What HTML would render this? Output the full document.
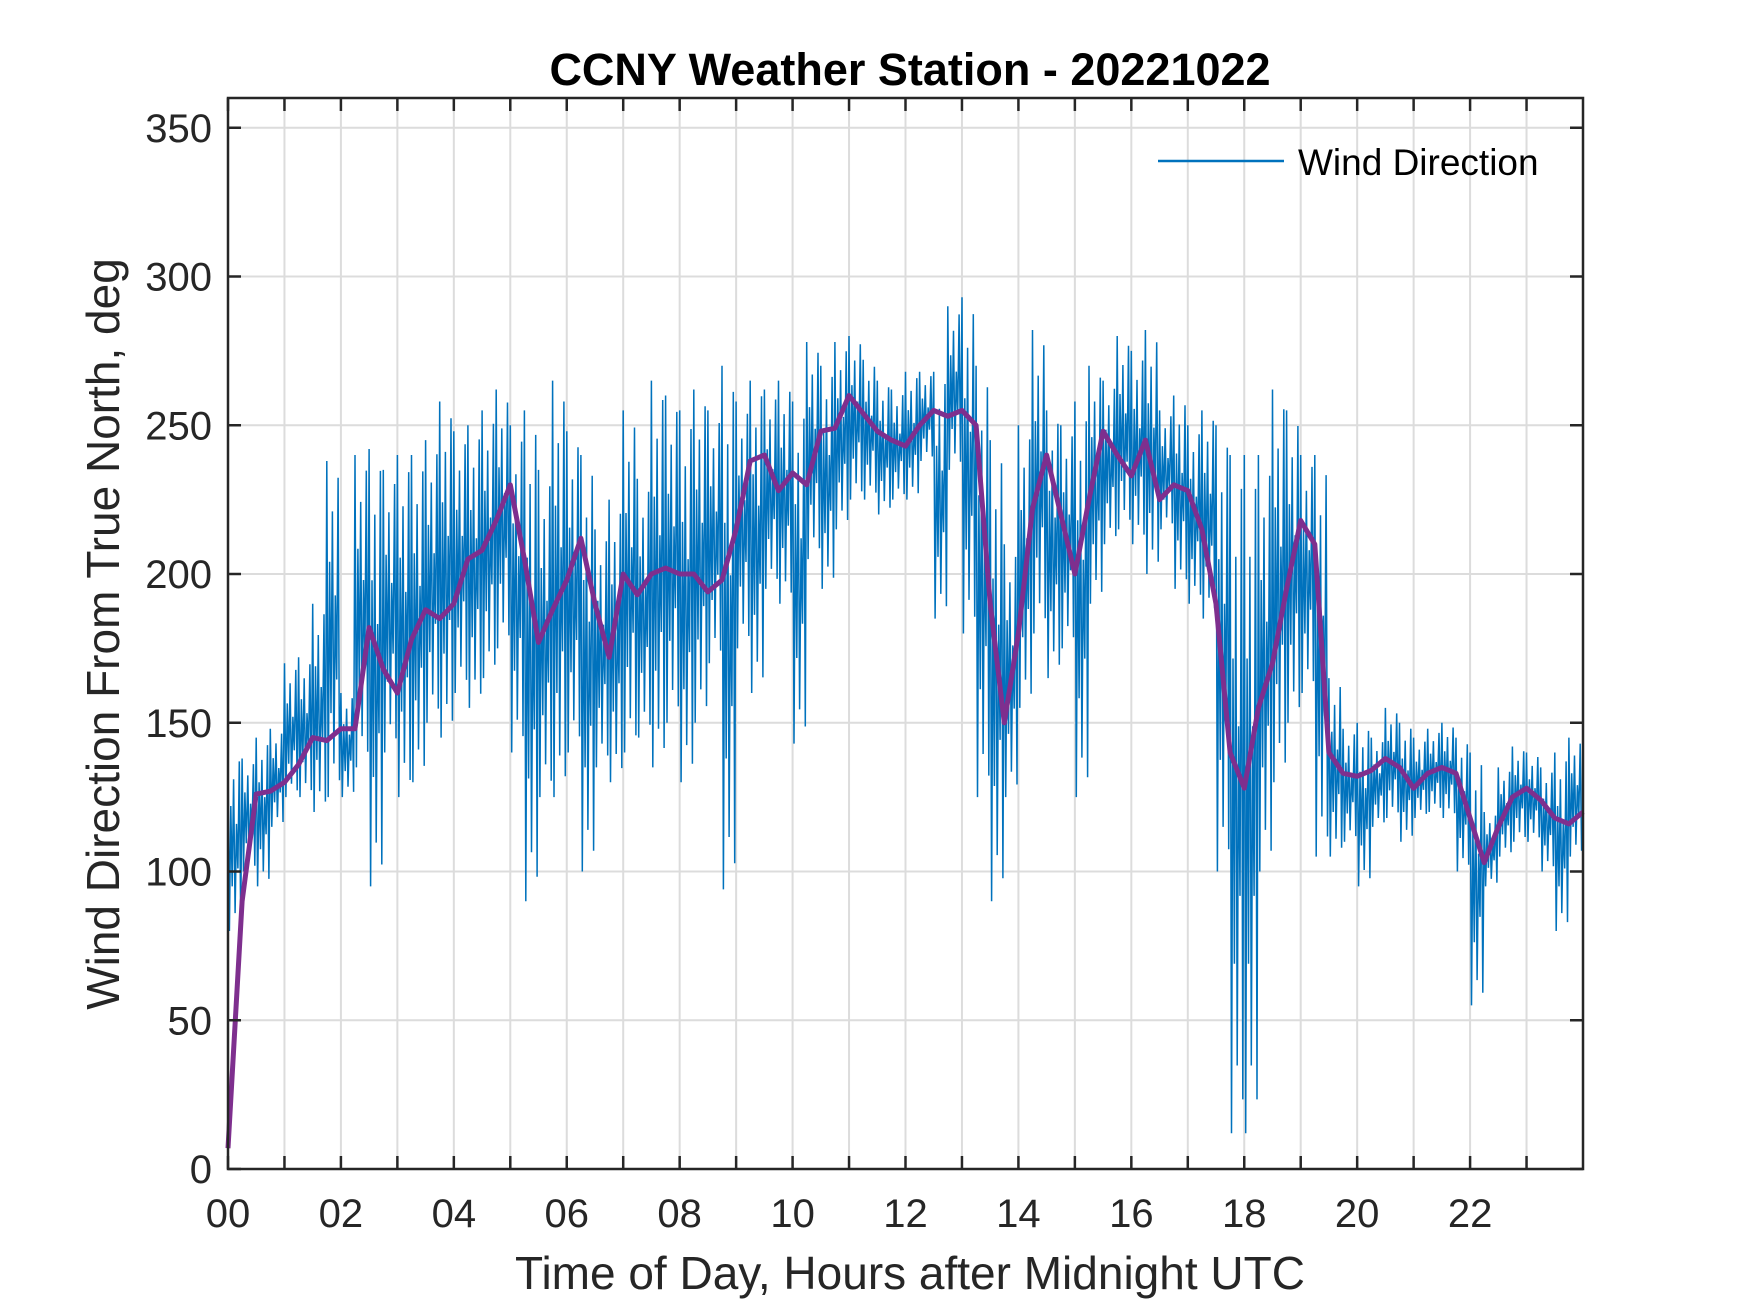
<!DOCTYPE html>
<html><head><meta charset="utf-8"><style>
html,body{margin:0;padding:0;background:#fff;}
svg{display:block;font-family:"Liberation Sans",Arial,sans-serif;}
</style></head><body>
<svg id="chart" width="1750" height="1313" viewBox="0 0 1750 1313">
<rect width="1750" height="1313" fill="#fff"/>
<g id="grid"></g>
<g id="series"></g>
<g id="axes"></g>
<text x="910" y="85" text-anchor="middle" font-size="45" font-weight="bold" fill="#000">CCNY Weather Station - 20221022</text>
<text x="910" y="1289" text-anchor="middle" font-size="46" fill="#262626">Time of Day, Hours after Midnight UTC</text>
<text transform="translate(119,634) rotate(-90)" text-anchor="middle" font-size="46" fill="#262626">Wind Direction From True North, deg</text>
<g>
<line x1="1158" y1="161" x2="1284" y2="161" stroke="#0072BD" stroke-width="2.5"/>
<text x="1298" y="175" font-size="37" fill="#000">Wind Direction</text>
</g>
</svg>
<script>
const xTicks=[0,2,4,6,8,10,12,14,16,18,20,22];
const xTickLabels=["00","02","04","06","08","10","12","14","16","18","20","22"];
const yTicks=[0,50,100,150,200,250,300,350];
const yTickLabels=["0","50","100","150","200","250","300","350"];
const blueHi=[140,138,145,148,170,172,190,238,160,240,242,235,240,240,245,258,248,250,255,262,250,255,235,265,248,240,215,225,255,232,265,260,255,262,255,270,258,265,262,265,258,278,270,278,280,272,265,262,268,268,268,290,293,270,245,210,250,282,255,250,258,270,265,280,275,282,255,260,250,255,250,240,240,240,262,255,240,240,165,148,150,145,155,150,145,148,150,145,140,120,135,142,140,135,140,145];
const blueLo=[80,100,95,115,125,125,120,125,125,135,95,140,125,130,150,145,160,155,165,175,140,90,125,125,140,100,135,130,140,145,135,150,130,150,170,94,175,160,195,190,143,205,195,215,225,225,220,225,225,238,185,235,180,125,90,125,155,180,165,175,125,190,210,215,210,200,215,195,190,185,100,12,12,100,130,150,160,105,105,110,95,115,118,110,118,120,118,100,55,95,105,110,110,100,80,105];
const purple=[7,90,126,127,130,136,145,144,148,148,182,168,160,178,188,185,190,205,208,218,230,205,177,188,198,212,190,172,200,193,200,202,200,200,194,198,215,238,240,228,234,230,248,249,260,254,248,245,243,250,255,253,255,250,190,150,180,222,240,220,200,225,248,240,233,245,225,230,228,215,190,140,128,155,170,195,218,210,140,133,132,134,138,135,128,133,135,133,118,103,115,125,128,124,118,116,120];
const binHours=0.25;
const X0=228,X1=1583,Y0=1169,Y1=98,XMAX=24,YMAX=360;
const xs=h=>X0+(X1-X0)*h/XMAX;
const ys=v=>Y0-(Y0-Y1)*v/YMAX;
const NS="http://www.w3.org/2000/svg";
function mk(tag,attrs,parent){const e=document.createElementNS(NS,tag);for(const k in attrs)e.setAttribute(k,attrs[k]);parent.appendChild(e);return e;}
const grid=document.getElementById('grid'),axes=document.getElementById('axes'),series=document.getElementById('series');
for(let h=0;h<=23;h++){
  const l=mk('line',{x1:xs(h),x2:xs(h),y1:Y1,y2:Y0,stroke:'#dcdcdc','stroke-width':2},grid);
  
  
}
yTicks.forEach(v=>{
  const l=mk('line',{x1:X0,x2:X1,y1:ys(v),y2:ys(v),stroke:'#dcdcdc','stroke-width':2},grid);
  
  
});
const frac=[1,0,0.7,0.25,0.85,0.1,0.6,0.35,0.95,0.05];
let pts=[];
for(let i=0;i<blueHi.length;i++){
  const n=10;
  for(let k=0;k<n;k++){
    const h=i*binHours+k*binHours/n;
    const v=blueLo[i]+(blueHi[i]-blueLo[i])*frac[k];
    pts.push(xs(h).toFixed(1)+','+ys(v).toFixed(1));
  }
}
const bl=mk('polyline',{points:pts.join(' '),fill:'none',stroke:'#0072BD','stroke-width':1.5,'stroke-linejoin':'miter'},series);


const pp=purple.map((v,i)=>xs(i*binHours).toFixed(1)+','+ys(v).toFixed(1)).join(' ');
const pl=mk('polyline',{points:pp,fill:'none',stroke:'#7E2F8E','stroke-width':5,'stroke-linejoin':'round'},series);


const box=mk('rect',{x:X0,y:Y1,width:X1-X0,height:Y0-Y1,fill:'none',stroke:'#262626','stroke-width':2.5},axes);


for(let h=0;h<=23;h++){
  const t1=mk('line',{x1:xs(h),x2:xs(h),y1:Y0,y2:Y0-13,stroke:'#262626','stroke-width':2.5},axes);
  
  
  const t2=mk('line',{x1:xs(h),x2:xs(h),y1:Y1,y2:Y1+13,stroke:'#262626','stroke-width':2.5},axes);
  
  
}
xTicks.forEach((h,i)=>{
  const t=mk('text',{x:xs(h),y:1227,'text-anchor':'middle','font-size':40,fill:'#262626'},axes);
  t.textContent=xTickLabels[i];
  
  
});
yTicks.forEach((v,i)=>{
  const t1=mk('line',{x1:X0,x2:X0+13,y1:ys(v),y2:ys(v),stroke:'#262626','stroke-width':2.5},axes);
  
  
  const t2=mk('line',{x1:X1,x2:X1-13,y1:ys(v),y2:ys(v),stroke:'#262626','stroke-width':2.5},axes);
  
  
  const t=mk('text',{x:212,y:ys(v)+14,'text-anchor':'end','font-size':40,fill:'#262626'},axes);
  t.textContent=yTickLabels[i];
  
  
});
</script>
</body></html>
